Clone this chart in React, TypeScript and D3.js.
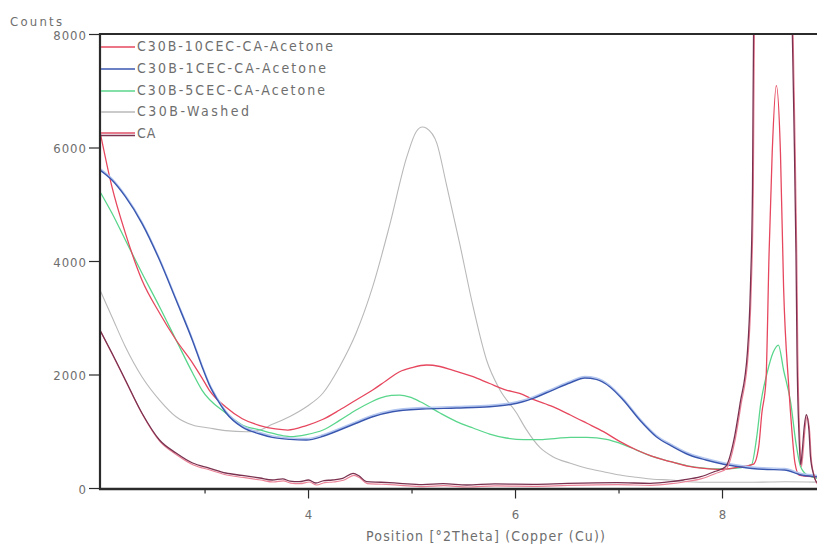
import React from "react";
import * as d3 from "d3";

// Diffraction scans: [2θ position, counts]
const c30b10cec: [number, number][] = [
  [1.985, 6290], [2.1, 5318], [2.23, 4500], [2.39, 3674], [2.56, 3092], [2.72, 2617], [2.88, 2211],
  [2.97, 1950], [3.04, 1735], [3.2, 1436], [3.36, 1230], [3.53, 1110], [3.68, 1050], [3.8, 1030],
  [3.98, 1110], [4.14, 1220], [4.3, 1383], [4.46, 1560], [4.62, 1735], [4.75, 1900], [4.88, 2058],
  [5.0, 2130], [5.14, 2176], [5.27, 2150], [5.39, 2088], [5.59, 1970], [5.75, 1850], [5.91, 1735],
  [6.04, 1677], [6.17, 1571], [6.36, 1441], [6.53, 1295], [6.69, 1149], [6.85, 1001], [7.01, 825],
  [7.17, 678], [7.33, 560], [7.5, 472], [7.66, 396], [7.82, 356], [7.98, 338], [8.14, 373], [8.3, 430],
  [8.35, 737], [8.38, 1325], [8.42, 1900], [8.45, 4146], [8.48, 5911], [8.52, 7100], [8.56, 5911],
  [8.59, 3556], [8.64, 1800], [8.67, 1031], [8.7, 450], [8.74, 238], [8.88, 208], [9.0, 200],
];

const c30b1cec: [number, number][] = [
  [1.985, 5612], [2.1, 5436], [2.23, 5142], [2.39, 4673], [2.56, 4026], [2.72, 3321], [2.88, 2600],
  [2.97, 2150], [3.04, 1830], [3.12, 1560], [3.2, 1340], [3.36, 1080], [3.53, 960], [3.65, 900],
  [3.82, 865], [3.98, 855], [4.14, 920], [4.3, 1031], [4.46, 1150], [4.62, 1265], [4.81, 1353],
  [5.1, 1401], [5.43, 1418], [5.75, 1441], [5.95, 1480], [6.07, 1529], [6.17, 1589], [6.36, 1735],
  [6.53, 1864], [6.67, 1947], [6.78, 1923], [6.91, 1794], [7.04, 1559], [7.2, 1207], [7.36, 913],
  [7.52, 737], [7.68, 590], [7.84, 502], [8.0, 432], [8.16, 384], [8.39, 338], [8.6, 326],
  [8.76, 238], [8.9, 208], [9.0, 190],
];

const c30b5cec: [number, number][] = [
  [1.985, 5230], [2.1, 4854], [2.23, 4379], [2.39, 3797], [2.56, 3203], [2.72, 2617], [2.88, 2035],
  [2.97, 1735], [3.2, 1330], [3.36, 1119], [3.53, 1031], [3.7, 950], [3.82, 913], [3.98, 950],
  [4.14, 1031], [4.3, 1200], [4.46, 1383], [4.6, 1520], [4.69, 1594], [4.8, 1640], [4.88, 1647],
  [4.98, 1610], [5.08, 1529], [5.27, 1330], [5.43, 1180], [5.59, 1066], [5.75, 960], [5.91, 890],
  [6.08, 860], [6.24, 860], [6.4, 885], [6.53, 902], [6.69, 902], [6.88, 867], [7.01, 796],
  [7.17, 678], [7.33, 560], [7.5, 472], [7.66, 400], [7.82, 360], [7.98, 345], [8.14, 360],
  [8.28, 420], [8.33, 900], [8.37, 1500], [8.43, 2030], [8.49, 2400], [8.54, 2528], [8.59, 2088],
  [8.66, 1501], [8.71, 796], [8.755, 384], [8.82, 238], [9.0, 150],
];

const c30bWashed: [number, number][] = [
  [1.985, 3497], [2.1, 3027], [2.23, 2498], [2.39, 1970], [2.56, 1559], [2.72, 1265], [2.88, 1119],
  [3.04, 1066], [3.2, 1020], [3.4, 1000], [3.53, 1030], [3.65, 1130], [3.82, 1270], [3.98, 1441],
  [4.14, 1683], [4.3, 2146], [4.46, 2740], [4.62, 3556], [4.78, 4613], [4.95, 5847], [5.04, 6287],
  [5.1, 6370], [5.14, 6347], [5.24, 6082], [5.33, 5378], [5.46, 4320], [5.59, 3203], [5.72, 2264],
  [5.85, 1735], [6.01, 1330], [6.1, 1050], [6.24, 714], [6.36, 560], [6.53, 444], [6.69, 356],
  [6.85, 296], [7.01, 238], [7.17, 197], [7.33, 162], [7.5, 150], [7.66, 120], [7.9, 110],
  [8.3, 110], [8.6, 120], [9.0, 110],
];

const caScan: [number, number][] = [
  [1.985, 2793], [2.1, 2387], [2.23, 1912], [2.39, 1330], [2.56, 855], [2.72, 625], [2.88, 449],
  [3.04, 361], [3.2, 273], [3.36, 230], [3.53, 185], [3.65, 150], [3.75, 170], [3.82, 130],
  [3.91, 120], [4.0, 150], [4.07, 97], [4.15, 140], [4.23, 150], [4.33, 180], [4.43, 268],
  [4.49, 220], [4.56, 120], [4.7, 110], [4.88, 92], [5.1, 70], [5.3, 85], [5.53, 62], [5.8, 80],
  [6.17, 74], [6.5, 90], [6.98, 102], [7.3, 92], [7.5, 120], [7.62, 150], [7.79, 208], [7.92, 296],
  [8.03, 384], [8.11, 855], [8.17, 1500], [8.24, 2387], [8.27, 3556], [8.29, 5318], [8.3, 8000],
  [8.34, 10500], [8.45, 13000], [8.58, 12500], [8.65, 10000], [8.675, 8000], [8.69, 6493],
  [8.71, 4146], [8.72, 2387], [8.74, 900], [8.755, 420], [8.77, 650], [8.79, 1089], [8.81, 1300],
  [8.835, 1031], [8.85, 560], [8.88, 250], [8.92, 100], [9.0, 90],
];

const seriesNames = [
  "C30B-10CEC-CA-Acetone",
  "C30B-1CEC-CA-Acetone",
  "C30B-5CEC-CA-Acetone",
  "C30B-Washed",
  "CA",
];

const yTicks = [0, 2000, 4000, 6000, 8000];
const xMajorTicks = [4, 6, 8];
const xMinorTicks = [3, 5, 7];

const W = 817;
const H = 551;
const left = 100;
const top = 34.5;
const bottom = 488.5;
const right = 826;

const FONT = "'DejaVu Sans', sans-serif";
const TEXT = "#6e6e6e";
const AXIS = "#2b2b2b";

export default function App() {
  const x = d3.scaleLinear().domain([1.985, 9]).range([left, right]);
  const y = d3.scaleLinear().domain([0, 8000]).range([bottom, top]);
  const line = d3
    .line<[number, number]>()
    .x((d) => x(d[0]))
    .y((d) => y(d[1]))
    .curve(d3.curveMonotoneX);

  const legendWidths = [196, 189, 188, 112, 0];
  const legendRows = [46, 68, 90, 111, 133];
  const legendColors = ["#e6475e", "#3a57b0", "#5ad68c", "#b9b9b9"];

  return (
    <svg
      width={W}
      height={H}
      style={{ position: "absolute", left: 0, top: 0, background: "#fff", fontStretch: "condensed" }}
      fontFamily={FONT}
    >
      <defs>
        <clipPath id="plot-area">
          <rect x={left} y={top} width={W - left} height={bottom - top} />
        </clipPath>
      </defs>

      <g clipPath="url(#plot-area)" fill="none" strokeLinejoin="round">
        <path d={line(c30bWashed) ?? ""} stroke="#b9b9b9" strokeWidth={1.1} />
        <path d={line(c30b5cec) ?? ""} stroke="#5ad68c" strokeWidth={1.3} />
        <path d={line(c30b10cec) ?? ""} stroke="#e6475e" strokeWidth={1.3} />
        <path d={line(c30b1cec) ?? ""} stroke="#b2c6f0" strokeWidth={1.4} transform="translate(0,-1.5)" />
        <path d={line(c30b1cec) ?? ""} stroke="#3a57b0" strokeWidth={1.4} />
        <path d={line(caScan) ?? ""} stroke="#ea8196" strokeWidth={1.2} transform="translate(0.8,2)" />
        <path d={line(caScan) ?? ""} stroke="#7a3250" strokeWidth={1.3} />
      </g>

      {/* frame and axes */}
      <line x1={left} x2={W} y1={top - 0.5} y2={top - 0.5} stroke={AXIS} strokeWidth={2} />
      <line x1={left} x2={left} y1={top - 1.5} y2={bottom + 1.5} stroke={AXIS} strokeWidth={2.2} />
      <line x1={left - 1} x2={W} y1={bottom + 0.5} y2={bottom + 0.5} stroke={AXIS} strokeWidth={2.4} />

      {yTicks.map((t) => (
        <g key={t}>
          <line x1={left - 11} x2={left} y1={y(t)} y2={y(t)} stroke={AXIS} strokeWidth={1.2} />
          <text x={87} y={y(t) + 5} textAnchor="end" fontSize={13} fill={TEXT} letterSpacing={1}>
            {t}
          </text>
        </g>
      ))}

      {xMajorTicks.map((t) => (
        <g key={t}>
          <line x1={x(t)} x2={x(t)} y1={bottom} y2={bottom + 10} stroke={AXIS} strokeWidth={1.2} />
          <text x={x(t)} y={bottom + 30} textAnchor="middle" fontSize={13} fill={TEXT}>
            {t}
          </text>
        </g>
      ))}
      {xMinorTicks.map((t) => (
        <line key={t} x1={x(t)} x2={x(t)} y1={bottom} y2={bottom + 5} stroke={AXIS} strokeWidth={1.2} />
      ))}

      <text x={10} y={26} fontSize={13} fill={TEXT} textLength={52} lengthAdjust="spacing">
        Counts
      </text>
      <text x={366} y={541} fontSize={14} fill={TEXT} textLength={239} lengthAdjust="spacing">
        Position [°2Theta] (Copper (Cu))
      </text>

      {/* legend */}
      {seriesNames.map((name, i) => {
        const ry = legendRows[i];
        return (
          <g key={name}>
            {i < 4 ? (
              <line x1={left + 1} x2={135} y1={ry + 1} y2={ry + 1} stroke={legendColors[i]} strokeWidth={1.3} />
            ) : (
              <>
                <line x1={left + 1} x2={135} y1={ry} y2={ry} stroke="#e0506a" strokeWidth={1.3} />
                <line x1={left + 1} x2={135} y1={ry + 2.5} y2={ry + 2.5} stroke="#7a3250" strokeWidth={1.3} />
              </>
            )}
            <text
              x={137}
              y={ry + 5}
              fontSize={14}
              fill={TEXT}
              letterSpacing={i === 4 ? 1 : undefined}
              textLength={legendWidths[i] || undefined}
              lengthAdjust="spacing"
            >
              {name}
            </text>
          </g>
        );
      })}
    </svg>
  );
}
